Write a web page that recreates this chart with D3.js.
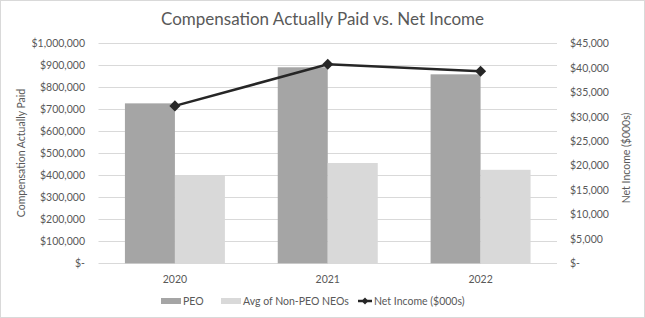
<!DOCTYPE html>
<html>
<head>
<meta charset="utf-8">
<script src="https://cdn.jsdelivr.net/npm/d3@7"></script>
<style>
  body { margin: 0; background: #fff; }
  text { font-family: Lato, "Open Sans", sans-serif; fill: #595959; }
</style>
</head>
<body>
<div id="chart"></div>
<script>
// data
var years = ["2020", "2021", "2022"];
var peo = [727000, 891000, 859000];
var nonPeo = [401000, 456000, 425000];
var netIncome = [32200, 40700, 39300];
var leftTicks = [0, 100000, 200000, 300000, 400000, 500000, 600000, 700000, 800000, 900000, 1000000];
var rightTicks = [0, 5000, 10000, 15000, 20000, 25000, 30000, 35000, 40000, 45000];

var W = 645, H = 318;
var plot = { left: 98.5, right: 557, top: 43.3, bottom: 263.3 };

var svg = d3.select("#chart").append("svg")
    .attr("width", W)
    .attr("height", H);

svg.append("rect")
    .attr("x", 0.5).attr("y", 0.5)
    .attr("width", W - 1).attr("height", H - 1)
    .attr("fill", "#fff")
    .attr("stroke", "#d9d9d9");

var x = d3.scaleBand().domain(years).range([plot.left, plot.right]);
var yL = d3.scaleLinear().domain([0, 1000000]).range([plot.bottom, plot.top]);
var yR = d3.scaleLinear().domain([0, 45000]).range([plot.bottom, plot.top]);

var fmt = d3.format(",");
function money(v) { return v === 0 ? "$-" : "$" + fmt(v); }

// gridlines
svg.append("g").selectAll("line")
    .data(leftTicks)
    .enter().append("line")
    .attr("x1", plot.left).attr("x2", plot.right)
    .attr("y1", function (d) { return Math.round(yL(d)) + 0.5; })
    .attr("y2", function (d) { return Math.round(yL(d)) + 0.5; })
    .attr("stroke", "#d9d9d9")
    .attr("stroke-width", 1);

// left axis
var axL = svg.append("g")
    .attr("transform", "translate(" + 85 + ",0)")
    .call(d3.axisLeft(yL).tickValues(leftTicks).tickFormat(money).tickSize(0).tickPadding(0));
axL.select(".domain").remove();
axL.selectAll("text").style("font-size", "10.5px").style("font-family", "Lato").attr("fill", "#595959");

// right axis
var axR = svg.append("g")
    .attr("transform", "translate(" + 570 + ",0)")
    .call(d3.axisRight(yR).tickValues(rightTicks).tickFormat(money).tickSize(0).tickPadding(0));
axR.select(".domain").remove();
axR.selectAll("text").style("font-size", "10.5px").style("font-family", "Lato").attr("fill", "#595959");

// bars
var barW = 50;
svg.append("g").selectAll("rect")
    .data(years)
    .enter().append("rect")
    .attr("x", function (d) { return x(d) + x.bandwidth() / 2 - barW; })
    .attr("y", function (d, i) { return yL(peo[i]); })
    .attr("width", barW)
    .attr("height", function (d, i) { return plot.bottom - yL(peo[i]); })
    .attr("fill", "#a5a5a5");

svg.append("g").selectAll("rect")
    .data(years)
    .enter().append("rect")
    .attr("x", function (d) { return x(d) + x.bandwidth() / 2; })
    .attr("y", function (d, i) { return yL(nonPeo[i]); })
    .attr("width", barW)
    .attr("height", function (d, i) { return plot.bottom - yL(nonPeo[i]); })
    .attr("fill", "#d9d9d9");

// category labels
svg.append("g").selectAll("text")
    .data(years)
    .enter().append("text")
    .attr("x", function (d) { return x(d) + x.bandwidth() / 2; })
    .attr("y", 283)
    .attr("text-anchor", "middle")
    .style("font-size", "10.5px")
    .text(function (d) { return d; });

// net income line
var line = d3.line()
    .x(function (d, i) { return x(years[i]) + x.bandwidth() / 2; })
    .y(function (d) { return yR(d); });

svg.append("path")
    .datum(netIncome)
    .attr("d", line)
    .attr("fill", "none")
    .attr("stroke", "#262626")
    .attr("stroke-width", 2.5);

svg.append("g").selectAll("path")
    .data(netIncome)
    .enter().append("path")
    .attr("d", d3.symbol().type(d3.symbolDiamond2).size(78))
    .attr("transform", function (d, i) {
        return "translate(" + (x(years[i]) + x.bandwidth() / 2) + "," + yR(d) + ")";
    })
    .attr("fill", "#262626");

// title
svg.append("text")
    .attr("x", W / 2)
    .attr("y", 25)
    .attr("text-anchor", "middle")
    .style("font-size", "17px")
    .text("Compensation Actually Paid vs. Net Income");

// axis titles
svg.append("text")
    .attr("transform", "translate(25,153) rotate(-90)")
    .attr("text-anchor", "middle")
    .style("font-size", "10.5px")
    .text("Compensation Actually Paid");

svg.append("text")
    .attr("transform", "translate(630,158) rotate(-90)")
    .attr("text-anchor", "middle")
    .style("font-size", "10.5px")
    .text("Net Income ($000s)");

// legend
var legend = svg.append("g");
legend.append("rect").attr("x", 161).attr("y", 298).attr("width", 20).attr("height", 6).attr("fill", "#a5a5a5");
legend.append("text").attr("x", 183).attr("y", 305).style("font-size", "10.5px").text("PEO");
legend.append("rect").attr("x", 221).attr("y", 298).attr("width", 20).attr("height", 6).attr("fill", "#d9d9d9");
legend.append("text").attr("x", 243).attr("y", 305).style("font-size", "10.5px").text("Avg of Non-PEO NEOs");
legend.append("line").attr("x1", 358).attr("x2", 372).attr("y1", 301).attr("y2", 301)
    .attr("stroke", "#262626").attr("stroke-width", 2.5);
legend.append("path").attr("d", d3.symbol().type(d3.symbolDiamond2).size(30))
    .attr("transform", "translate(365,301)").attr("fill", "#262626");
legend.append("text").attr("x", 374).attr("y", 305).style("font-size", "10.5px").text("Net Income ($000s)");
</script>
</body>
</html>
